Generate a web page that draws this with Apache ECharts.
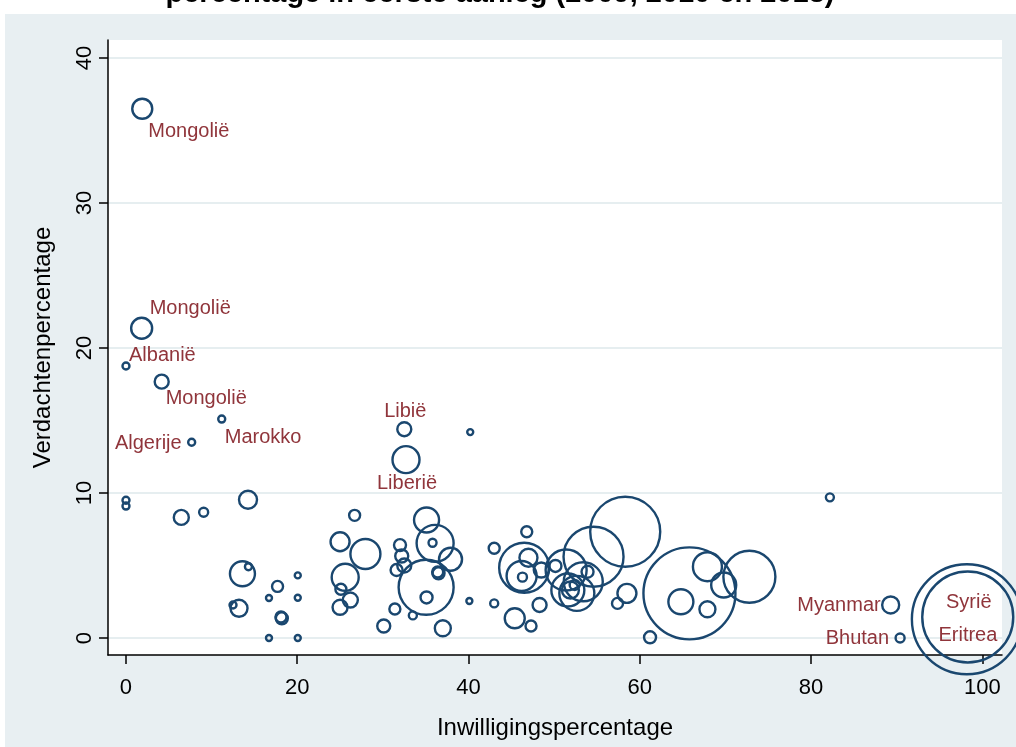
<!DOCTYPE html>
<html>
<head>
<meta charset="utf-8">
<script src="https://cdn.jsdelivr.net/npm/echarts@6/dist/echarts.min.js"></script>
<style>
html,body{margin:0;padding:0;background:#fff;}
#chart{width:1016px;height:747px;}
</style>
</head>
<body>
<div id="chart"></div>
<script>
// Inwilligingspercentage (x), Verdachtenpercentage (y), aantal aanvragen (bubble weight), land
const landen = ['Mongolië','Mongolië','Albanië','Mongolië','Marokko','Algerije','Libië','Liberië','Myanmar','Bhutan','Syrië','Eritrea',
  '','','','','','','','','','','','','','','','','','','','','','','','','','','','','','','','','','','','','','','','','','','','','','','','','','','','','','','','','','','','','','','','','','','','','',''];
const inwilliging = [1.9,1.83,0,4.17,11.18,7.67,32.5,32.7,89.3,90.4,98.3,98.2,
  40.2,0,0,6.46,9.07,14.25,13.6,14.3,17.7,16.7,20.06,20.06,13.2,12.5,18.2,18.1,16.7,20.06,
  26.7,25.0,27.96,25.6,25.1,26.2,25.0,30.1,32.0,32.2,32.5,31.6,31.4,33.5,
  35.1,36.1,35.8,37.9,36.5,36.4,35.05,35.1,37.0,40.1,43.0,43.0,
  46.8,45.4,47.3,48.3,46.5,47.0,46.2,46.3,48.5,50.15,51.4,54.6,58.3,51.6,52.65,53.4,53.9,51.9,52.4,
  58.5,57.4,61.2,65.8,64.8,67.9,67.9,69.8,72.8,82.2];
const verdacht = [36.5,21.36,18.76,17.68,15.1,13.5,14.4,12.3,2.28,0,1.45,1.3,
  14.2,9.5,9.1,8.32,8.67,9.54,4.43,4.92,3.56,2.76,4.32,2.78,2.05,2.28,1.36,1.45,0,0,
  8.46,6.64,5.79,4.19,3.36,2.62,2.12,0.83,6.41,5.66,5.0,4.69,2.0,1.56,
  8.14,6.53,6.57,5.43,4.46,4.55,3.5,2.8,0.67,2.55,6.19,2.39,
  7.33,1.36,0.83,2.28,4.85,5.54,4.28,4.2,4.69,4.97,4.69,5.61,7.33,3.31,3.08,3.88,4.57,3.31,3.66,
  3.08,2.39,0.05,3.08,2.5,1.98,4.92,3.66,4.23,9.7];
const aantal = [1600,1764,196,784,196,196,784,2916,1156,324,33124,48400,
  144,196,196,900,324,1296,2500,196,484,144,144,144,1156,196,576,484,144,144,
  484,1444,3600,2916,484,900,900,676,576,676,784,576,484,256,
  2500,5476,256,2116,576,484,12100,576,1024,144,484,256,
  484,1600,484,784,10000,1296,3600,324,900,576,6724,14400,19600,4356,4900,6084,576,1156,400,
  1444,484,576,33856,2500,1024,3364,2500,10816,256];

const xTicks = [0,20,40,60,80,100];
const yTicks = [0,10,20,30,40];

// label placement per labelled point: [align, dx, dy]
const labelPlacement = {
  0:['left',6,23], 1:['left',8,-20], 2:['left',3,-11], 3:['left',4,17], 4:['left',3,18],
  5:['right',-10,1], 6:['center',1,-18], 7:['center',1,24], 8:['right',-10,1], 9:['right',-11,0],
  10:['center',1,-15], 11:['center',1,16]
};

const FONT = '"Liberation Sans", Arial, sans-serif';
const NAVY = '#1a476f';
const MAROON = '#90353b';

const data = inwilliging.map((x, i) => {
  const item = { value: [x, verdacht[i], aantal[i]], name: landen[i] };
  const lp = labelPlacement[i];
  if (lp && landen[i]) {
    item.label = { show: true, position: 'inside', align: lp[0], verticalAlign: 'middle',
      offset: [lp[1], lp[2]], formatter: landen[i], color: MAROON, fontSize: 20, fontFamily: FONT };
  }
  return item;
});

const chart = echarts.init(document.getElementById('chart'), null, { renderer: 'canvas' });
chart.setOption({
  animation: false,
  backgroundColor: '#ffffff',
  graphic: [
    { type: 'rect', z: -100, shape: { x: 5, y: 14, width: 1011, height: 733 }, style: { fill: '#e8eff2' } },
    { type: 'text', z: 10, style: { text: 'percentage in eerste aanleg (2009, 2010 en 2013)', x: 500, y: 8,
        align: 'center', verticalAlign: 'bottom', font: 'bold 29px ' + FONT, fill: '#000' } }
  ],
  grid: { left: 108, right: 14, top: 40, bottom: 92, show: true, backgroundColor: '#ffffff', borderWidth: 0 },
  xAxis: {
    type: 'value', min: -2.1, max: 102.3,
    name: 'Inwilligingspercentage', nameLocation: 'middle', nameGap: 61,
    nameTextStyle: { fontSize: 24, fontFamily: FONT, color: '#000' },
    axisLine: { show: true, onZero: false, lineStyle: { color: '#000', width: 1.5 } },
    axisTick: { show: true, length: 9, customValues: xTicks, lineStyle: { color: '#000', width: 1.5 } },
    axisLabel: { customValues: xTicks, fontSize: 22, fontFamily: FONT, color: '#000', margin: 22 },
    splitLine: { show: false }
  },
  yAxis: {
    type: 'value', min: -1.17, max: 41.24,
    name: 'Verdachtenpercentage', nameLocation: 'middle', nameGap: 53,
    nameTextStyle: { fontSize: 24, fontFamily: FONT, color: '#000' },
    axisLine: { show: true, onZero: false, lineStyle: { color: '#000', width: 1.5 } },
    axisTick: { show: true, length: 9, customValues: yTicks, lineStyle: { color: '#000', width: 1.5 } },
    axisLabel: { customValues: yTicks, rotate: 90, fontSize: 22, fontFamily: FONT, color: '#000', margin: 12 },
    splitLine: { show: true, lineStyle: { color: '#e6eef0', width: 2 } }
  },
  series: [{
    type: 'scatter',
    data: data,
    symbol: 'circle',
    symbolSize: v => Math.sqrt(v[2]) / 2,
    itemStyle: { color: 'rgba(0,0,0,0)', borderColor: NAVY, borderWidth: 2.4, opacity: 1 },
    emphasis: { disabled: true },
    label: { show: false }
  }]
});
</script>
</body>
</html>
